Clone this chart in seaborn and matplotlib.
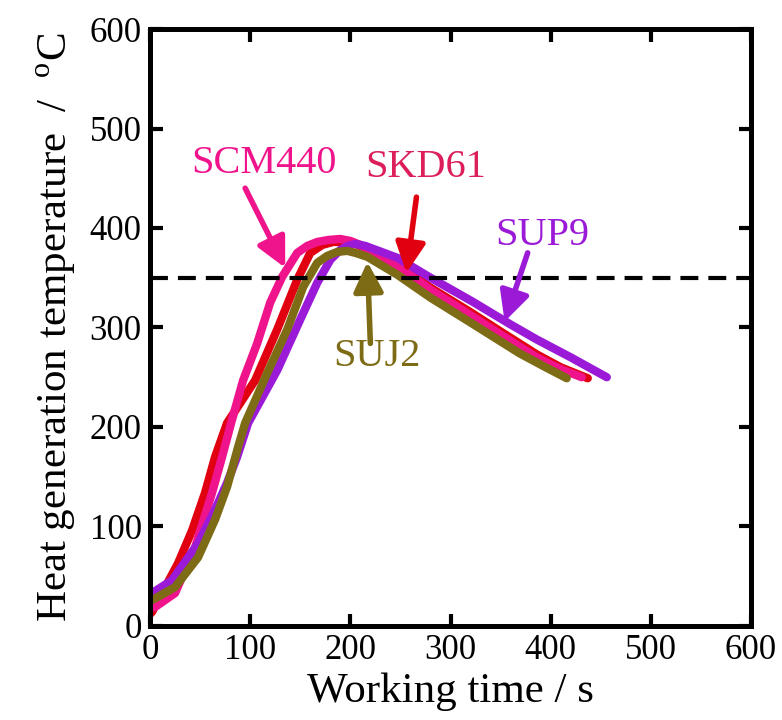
import pandas as pd
import numpy as np
import matplotlib
matplotlib.use("Agg")
import matplotlib.pyplot as plt
import seaborn as sns

# --- data ---
t_scm440 = [0, 5, 25, 45, 62, 72, 81, 93, 107, 120, 132, 147, 157, 167, 178, 190, 200, 210, 230, 250, 280, 319, 350, 386, 410, 431]
y_scm440 = [18, 19, 33, 79, 134, 170, 204, 247, 284, 325, 351, 375, 382, 386, 388, 389, 387, 383, 372, 360, 338, 313, 293, 270, 258, 250]

t_skd61 = [0, 2, 28, 42, 55, 65, 77, 105, 127, 147, 160, 172, 183, 200, 220, 250, 280, 319, 350, 386, 410, 437]
y_skd61 = [12, 14, 63, 96, 134, 170, 204, 247, 298, 348, 375, 383, 386, 386, 378, 361, 340, 316, 296, 273, 260, 249]

t_sup9 = [0, 2, 22, 48, 65, 77, 87, 98, 127, 150, 167, 180, 190, 197, 205, 215, 247, 280, 322, 360, 386, 420, 456]
y_sup9 = [30, 33, 46, 83, 117, 144, 170, 204, 257, 308, 345, 368, 378, 382, 384, 382, 370, 350, 326, 303, 288, 270, 250]

t_suj2 = [0, 2, 25, 48, 65, 77, 88, 95, 117, 137, 153, 167, 177, 187, 197, 205, 217, 247, 280, 320, 369, 395, 416]
y_suj2 = [25, 26, 39, 69, 107, 140, 180, 204, 254, 298, 341, 365, 372, 376, 377, 375, 371, 353, 330, 305, 274, 260, 249]

steels = ["SKD61", "SCM440", "SUP9", "SUJ2"]
threshold = 350

colors = {"SKD61": "#e00010", "SCM440": "#f0148c", "SUP9": "#9b1ad8", "SUJ2": "#7e6b15"}
text_colors = {"SKD61": "#dc1e5a", "SCM440": "#f0148c", "SUP9": "#9b1ad8", "SUJ2": "#7e6b15"}

frames = []
for name, t, y in [("SKD61", t_skd61, y_skd61), ("SCM440", t_scm440, y_scm440),
                   ("SUP9", t_sup9, y_sup9), ("SUJ2", t_suj2, y_suj2)]:
    frames.append(pd.DataFrame({"time": t, "temp": y, "steel": name}))
df = pd.concat(frames, ignore_index=True)

sns.set_style("ticks")
plt.rcParams["font.family"] = ["Liberation Serif", "DejaVu Serif"]
plt.rcParams["mathtext.fontset"] = "custom"
plt.rcParams["mathtext.rm"] = "Liberation Serif"
plt.rcParams["text.color"] = "black"
plt.rcParams["axes.labelcolor"] = "black"

fig = plt.figure(figsize=(7.82, 7.2), dpi=100)
ax = fig.add_axes([0.1918, 0.1306, 0.7686, 0.8291])

sns.lineplot(data=df, x="time", y="temp", hue="steel", hue_order=steels,
             palette=colors, sort=False, estimator=None, lw=6,
             legend=False, ax=ax, solid_capstyle="round", solid_joinstyle="round")

ax.axhline(threshold, color="black", lw=3, ls=(0, (4.3, 2.4)), zorder=5)

ax.set_xlim(0, 600)
ax.set_ylim(0, 600)
ax.set_xticks(np.arange(0, 601, 100))
ax.set_yticks(np.arange(0, 601, 100))
ax.tick_params(direction="in", length=9, width=3, top=True, right=True,
               labelsize=25, pad=6, colors="black")
for s in ax.spines.values():
    s.set_linewidth(3.6)
    s.set_color("black")

ax.set_xlabel("Working time / s", fontsize=31, labelpad=4)
ax.set_ylabel(r"Heat generation temperature  /  $^{\rm o}$C", fontsize=31, labelpad=8)

# labels with arrows
labels = [
    ("SCM440", (114, 465), (95, 440), (135, 360)),
    ("SKD61", (275, 461), (266, 431), (256, 355)),
    ("SUP9", (392, 392), (377, 375), (354, 306)),
    ("SUJ2", (227, 271), (220, 284), (217, 366)),
]
for name, txt_pos, tail, tip in labels:
    ax.text(txt_pos[0], txt_pos[1], name, color=text_colors[name], fontsize=29,
            ha="center", va="center", zorder=7)
    ax.annotate("", xy=tip, xytext=tail, zorder=8,
                arrowprops=dict(arrowstyle="-|>,head_length=0.9,head_width=0.45",
                                color=colors[name], lw=4, mutation_scale=20,
                                shrinkA=0, shrinkB=0))

fig.savefig("out.png", dpi=100)
